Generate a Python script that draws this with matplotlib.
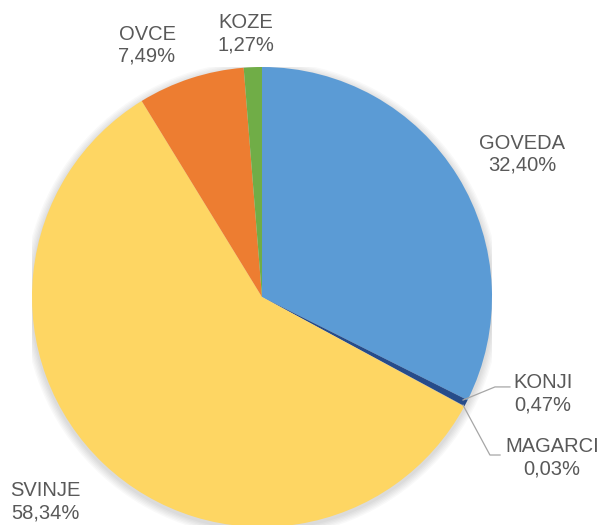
import numpy as np
import matplotlib.pyplot as plt

plt.rcParams['font.family'] = ['Liberation Sans', 'DejaVu Sans']

# Data
labels = ['GOVEDA', 'KONJI', 'MAGARCI', 'SVINJE', 'OVCE', 'KOZE']
shares = [32.40, 0.47, 0.03, 58.34, 7.49, 1.27]
colors = ['#5B9BD5', '#264C8A', '#8C8C8C', '#FED663', '#ED7D31', '#70AD47']
label_pos = {
    'GOVEDA': (1.13, 0.62),
    'KONJI': (1.22, -0.42),
    'MAGARCI': (1.26, -0.70),
    'SVINJE': (-0.94, -0.89),
    'OVCE': (-0.50, 1.095),
    'KOZE': (-0.07, 1.145),
}

W, H = 603, 525
fig = plt.figure(figsize=(W / 100, H / 100), dpi=100)
cx, cy, r = 262, 525 - 297, 230
ax = fig.add_axes([(cx - r) / W, (cy - r) / H, 2 * r / W, 2 * r / H])

# soft shadow
for k in range(6):
    ax.add_patch(plt.Circle((0.0, -0.01), 1.0 + 0.006 * (k + 1), color='#000000',
                            alpha=0.025, zorder=0, lw=0))

ax.pie(shares, colors=colors, startangle=90, counterclock=False, radius=1.0,
       wedgeprops=dict(linewidth=0, antialiased=True))

for name, val in zip(labels, shares):
    x, y = label_pos[name]
    ax.text(x, y, f'{name}\n{val:.2f}%'.replace('.', ','), ha='center', va='center',
            fontsize=14.5, color='#595959', linespacing=1.2)

# leader lines
ax.plot([0.874, 1.013, 1.078], [-0.448, -0.391, -0.391], color='#A6A6A6', lw=0.9, clip_on=False)
ax.plot([0.874, 0.991, 1.035], [-0.47, -0.687, -0.687], color='#A6A6A6', lw=0.9, clip_on=False)

ax.set_xlim(-1, 1)
ax.set_ylim(-1, 1)
ax.set_aspect('equal')
ax.axis('off')

fig.savefig('out.png', dpi=100)
